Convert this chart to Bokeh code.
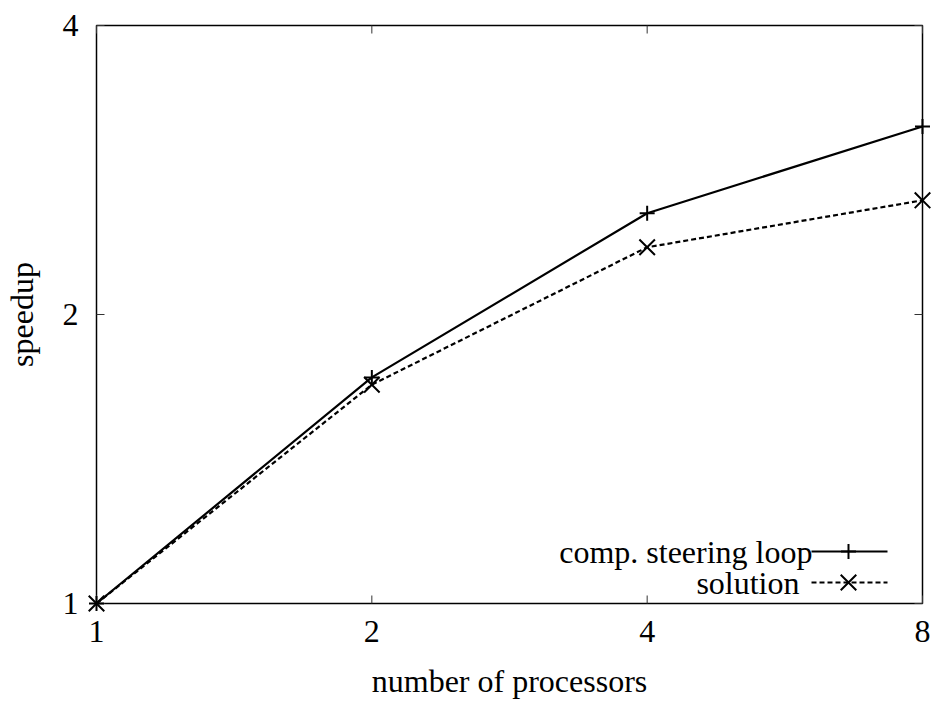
from bokeh.core.properties import value
from bokeh.embed import file_html
from bokeh.models import BasicTickFormatter, FixedTicker, Range1d
from bokeh.plotting import figure
from bokeh.resources import INLINE

# Measured speedups against number of processors
procs = [1, 2, 4, 8]
steering_loop = [1.0, 1.72, 2.55, 3.14]
solution = [1.0, 1.69, 2.35, 2.63]

x_ticks = [1, 2, 4, 8]
y_ticks = [1, 2, 4]

series_names = ["comp. steering loop", "solution"]

FONT = "Liberation Serif"
FONT_SIZE = "32px"
W, H = 937, 704

# Box drawn around the data (pixels) and the data limits it spans
BOX_L, BOX_R, BOX_T, BOX_B = 96, 922, 25, 603
X_MIN, X_MAX = 1, 8
Y_MIN, Y_MAX = 1, 4
PAD = 12  # room around the box so markers on its edge are not cut
TICK = 8

x_scale = (X_MAX / X_MIN) ** (1.0 / (BOX_R - BOX_L))
y_scale = (Y_MAX / Y_MIN) ** (1.0 / (BOX_B - BOX_T))


def px_x(px):
    return X_MIN * x_scale ** (px - BOX_L)


def px_y(py):
    return Y_MIN * y_scale ** (BOX_B - py)


p = figure(
    width=W, height=H,
    x_axis_type="log", y_axis_type="log",
    x_range=Range1d(px_x(BOX_L - PAD), px_x(BOX_R + PAD)),
    y_range=Range1d(px_y(BOX_B + PAD), px_y(BOX_T - PAD)),
    output_backend="svg", toolbar_location=None,
    min_border_left=BOX_L - PAD, min_border_right=W - BOX_R - PAD,
    min_border_top=BOX_T - PAD, min_border_bottom=H - BOX_B - PAD,
    background_fill_color="white", border_fill_color="white",
)
p.xgrid.visible = False
p.ygrid.visible = False
p.outline_line_color = None


def style_axis(ax, ticks):
    ax.ticker = FixedTicker(ticks=ticks)
    ax.formatter = BasicTickFormatter()
    ax.minor_tick_line_color = None
    ax.major_tick_line_color = None
    ax.major_tick_in = 0
    ax.major_tick_out = 0
    ax.axis_line_color = None
    ax.major_label_text_font = FONT
    ax.major_label_text_font_size = FONT_SIZE
    ax.major_label_text_color = "black"
    ax.axis_label_text_font = FONT
    ax.axis_label_text_font_size = FONT_SIZE
    ax.axis_label_text_font_style = "normal"
    ax.axis_label_text_color = "black"


xa = p.xaxis[0]
ya = p.yaxis[0]
style_axis(xa, x_ticks)
style_axis(ya, y_ticks)
xa.axis_label = "number of processors"
ya.axis_label = "speedup"
xa.major_label_standoff = 17 - PAD
xa.axis_label_standoff = 18
ya.major_label_standoff = 18 - PAD
ya.axis_label_standoff = 20
ya.major_label_orientation = "horizontal"

# Border box and inward ticks on all four sides
p.line([X_MIN, X_MAX, X_MAX, X_MIN, X_MIN], [Y_MIN, Y_MIN, Y_MAX, Y_MAX, Y_MIN],
       line_color="black", line_width=1.5)
y_lo_in, y_hi_in = px_y(BOX_B - TICK), px_y(BOX_T + TICK)
x_lo_in, x_hi_in = px_x(BOX_L + TICK), px_x(BOX_R - TICK)
for t in x_ticks:
    p.segment(x0=[t, t], y0=[Y_MIN, Y_MAX], x1=[t, t], y1=[y_lo_in, y_hi_in],
              line_color="#333333", line_width=1)
for t in y_ticks:
    p.segment(x0=[X_MIN, X_MAX], y0=[t, t], x1=[x_lo_in, x_hi_in], y1=[t, t],
              line_color="#333333", line_width=1)

# Data series
p.line(procs, steering_loop, line_color="black", line_width=2.2)
p.scatter(procs, steering_loop, marker="cross", size=15,
          line_color="black", line_width=2)
p.line(procs, solution, line_color="black", line_width=2.2, line_dash="5 3")
p.scatter(procs, solution, marker="x", size=22,
          line_color="black", line_width=2)

# Key in the lower right corner, text placed before the sample line
key_rows = [
    dict(name=series_names[0], y=551, text_right=812, dash="solid",
         marker="cross", size=15),
    dict(name=series_names[1], y=582, text_right=799, dash="5 3",
         marker="x", size=22),
]
for row in key_rows:
    yy = px_y(row["y"])
    p.text(x=[px_x(row["text_right"])], y=[yy], text=[row["name"]],
           text_font=value(FONT), text_font_size=FONT_SIZE, text_color="black",
           text_align="right", text_baseline="middle")
    p.line([px_x(811), px_x(887)], [yy, yy], line_color="black",
           line_width=2.2, line_dash=row["dash"])
    p.scatter([px_x(848)], [yy], marker=row["marker"], size=row["size"],
              line_color="black", line_width=2)

open("out.html", "w").write(file_html(p, INLINE))
